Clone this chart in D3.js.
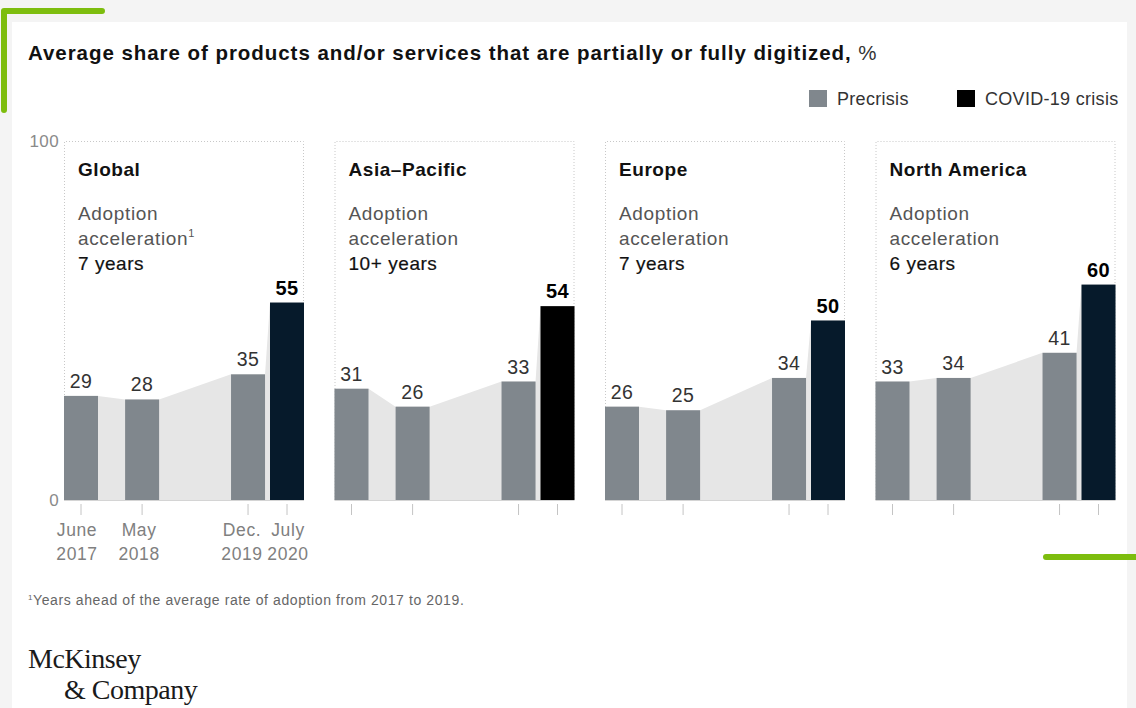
<!DOCTYPE html>
<html>
<head>
<meta charset="utf-8">
<script src="https://cdn.jsdelivr.net/npm/d3@7"></script>
<style>
  body { margin: 0; background: #f4f4f4; }
  svg { display: block; }
  text { font-family: "Liberation Sans", Arial, sans-serif; }
  text.serif { font-family: "Liberation Serif", "DejaVu Serif", serif; }
</style>
</head>
<body>
<script>
// data
const regions = ['Global', 'Asia\u2013Pacific', 'Europe', 'North America'];
const accelNote = ['\u00b9', '', '', ''];
const accelYears = ['7 years', '10+ years', '7 years', '6 years'];
const periods = ['June 2017', 'May 2018', 'Dec. 2019', 'July 2020'];
const periodDates = ['2017-06-01', '2018-05-01', '2019-12-01', '2020-07-01'];
const periodLines = [['June', '2017'], ['May', '2018'], ['Dec.', '2019'], ['July', '2020']];
const values = [
  [29, 28, 35, 55],
  [31, 26, 33, 54],
  [26, 25, 34, 50],
  [33, 34, 41, 60]
];
const yTicks = [0, 100];
const legendItems = ['Precrisis', 'COVID-19 crisis'];

const width = 1136;
const height = 708;
const precrisisColor = '#80878d';
const covidColors = ['#061a2b', '#000000', '#061a2b', '#061a2b'];
const green = '#7dbd0e';
const labelShift = [-4, -3, -6, 1];

const svg = d3.select('body').append('svg')
  .attr('width', width)
  .attr('height', height);

// card + green corners
svg.append('rect').attr('x', 12).attr('y', 22).attr('width', 1115).attr('height', 700).attr('fill', '#fff');
svg.append('path')
  .attr('d', 'M4,110 V11 H102')
  .attr('fill', 'none').attr('stroke', green).attr('stroke-width', 6)
  .attr('stroke-linecap', 'round').attr('stroke-linejoin', 'round');
svg.append('line')
  .attr('x1', 1046).attr('x2', 1145).attr('y1', 557).attr('y2', 557)
  .attr('stroke', green).attr('stroke-width', 6).attr('stroke-linecap', 'round');

// title
svg.append('text')
  .attr('x', 28).attr('y', 60)
  .attr('font-size', 20.5).attr('letter-spacing', 0.95).attr('fill', '#111')
  .call(t => {
    t.append('tspan').attr('font-weight', 'bold').text('Average share of products and/or services that are partially or fully digitized,');
    t.append('tspan').attr('fill', '#333').text(' %');
  });

// legend
const legend = svg.append('g').attr('class', 'legend');
const legendX = [809, 957];
legendItems.forEach((d, i) => {
  legend.append('rect')
    .attr('x', legendX[i]).attr('y', 90).attr('width', 18).attr('height', 17)
    .attr('fill', i === 0 ? precrisisColor : '#000');
  legend.append('text')
    .attr('x', legendX[i] + 28).attr('y', 105)
    .attr('font-size', 18).attr('letter-spacing', 0.3).attr('fill', '#333')
    .text(d);
});

// scales
const y = d3.scaleLinear().domain([0, 100]).range([500, 141]);
const panelX = d3.scaleBand().domain(regions).range([64, 1146]).paddingInner(0);
const panelW = 240;
const barW = 34;
const x = d3.scaleTime()
  .domain([new Date(periodDates[0]), new Date(periodDates[3])])
  .range([barW / 2, panelW - barW / 2]);

// y axis labels
svg.append('g').selectAll('text')
  .data(yTicks)
  .join('text')
  .attr('x', 59).attr('y', d => y(d) + 6)
  .attr('text-anchor', 'end')
  .attr('font-size', 17).attr('letter-spacing', 0.4).attr('fill', '#8a8a8a')
  .text(d => d);

const area = d3.area()
  .x(d => d.x)
  .y0(y(0))
  .y1(d => y(d.v));

regions.forEach((name, r) => {
  const g = svg.append('g').attr('transform', `translate(${panelX(name)},0)`);
  const data = values[r].map((v, i) => ({ v, i, cx: x(new Date(periodDates[i])) }));

  // dotted frame
  g.append('path')
    .attr('d', `M0.5,${y(0)} V${y(100) + 0.5} H${panelW - 0.5} V${y(0)}`)
    .attr('fill', 'none').attr('stroke', '#c8c8c8').attr('stroke-dasharray', '1,2');

  // shaded connector
  const pts = [];
  data.forEach(d => {
    pts.push({ x: d.cx - barW / 2, v: d.v });
    pts.push({ x: d.cx + barW / 2, v: d.v });
  });
  g.append('path').attr('d', area(pts)).attr('fill', '#e6e6e6');

  // baseline
  g.append('line')
    .attr('x1', 0).attr('x2', panelW).attr('y1', y(0) + 0.5).attr('y2', y(0) + 0.5)
    .attr('stroke', '#d4d4d4');

  // bars
  g.selectAll('rect.bar')
    .data(data)
    .join('rect')
    .attr('class', 'bar')
    .attr('x', d => d.cx - barW / 2)
    .attr('y', d => y(d.v))
    .attr('width', barW)
    .attr('height', d => y(0) - y(d.v))
    .attr('fill', d => d.i === 3 ? covidColors[r] : precrisisColor);

  // value labels
  g.selectAll('text.val')
    .data(data)
    .join('text')
    .attr('class', 'val')
    .attr('x', d => d.cx)
    .attr('y', d => y(d.v) - 8)
    .attr('text-anchor', 'middle')
    .attr('font-size', d => d.i === 3 ? 20 : 19.5)
    .attr('letter-spacing', 0.4)
    .attr('font-weight', d => d.i === 3 ? 'bold' : 'normal')
    .attr('fill', d => d.i === 3 ? '#000' : '#333')
    .text(d => d.v);

  // ticks
  g.selectAll('line.tick')
    .data(data)
    .join('line')
    .attr('class', 'tick')
    .attr('x1', d => d.cx).attr('x2', d => d.cx)
    .attr('y1', y(0) + 4).attr('y2', y(0) + 15)
    .attr('stroke', '#c4c4c4');

  // panel text
  g.append('text')
    .attr('x', 14).attr('y', 176)
    .attr('font-size', 19).attr('letter-spacing', 0.55).attr('font-weight', 'bold').attr('fill', '#111')
    .text(name);
  const txt = g.append('text').attr('x', 14).attr('font-size', 19).attr('letter-spacing', 0.65).attr('fill', '#555');
  txt.append('tspan').attr('x', 14).attr('y', 220).text('Adoption');
  const l2 = txt.append('tspan').attr('x', 14).attr('y', 245).text('acceleration');
  if (accelNote[r]) l2.append('tspan').attr('font-size', 11).attr('dy', -8).text('1');
  g.append('text')
    .attr('x', 14).attr('y', 270)
    .attr('font-size', 19).attr('letter-spacing', 0.55).attr('fill', '#111')
    .attr('stroke', '#111').attr('stroke-width', 0.2)
    .text(accelYears[r]);

  // x labels only on first panel
  if (r === 0) {
    data.forEach(d => {
      const t = g.append('text')
        .attr('text-anchor', 'middle')
        .attr('font-size', 17.5).attr('letter-spacing', 0.6).attr('fill', '#808080');
      t.append('tspan').attr('x', d.cx + labelShift[d.i]).attr('y', 536).text(periodLines[d.i][0]);
      t.append('tspan').attr('x', d.cx + labelShift[d.i]).attr('y', 560).text(periodLines[d.i][1]);
    });
  }
});

// footnote
svg.append('text')
  .attr('x', 28).attr('y', 605)
  .attr('font-size', 14).attr('letter-spacing', 0.6).attr('fill', '#666')
  .call(t => {
    t.append('tspan').attr('font-size', 8).attr('dy', -5).text('1');
    t.append('tspan').attr('dy', 5).text('Years ahead of the average rate of adoption from 2017 to 2019.');
  });

// logo
svg.append('text')
  .attr('class', 'serif')
  .attr('x', 28).attr('y', 668)
  .attr('font-size', 28).attr('fill', '#1a1a1a').attr('letter-spacing', -0.5)
  .text('McKinsey');
svg.append('text')
  .attr('class', 'serif')
  .attr('x', 64).attr('y', 699)
  .attr('font-size', 28).attr('fill', '#1a1a1a').attr('letter-spacing', -0.5)
  .text('& Company');
</script>
</body>
</html>
